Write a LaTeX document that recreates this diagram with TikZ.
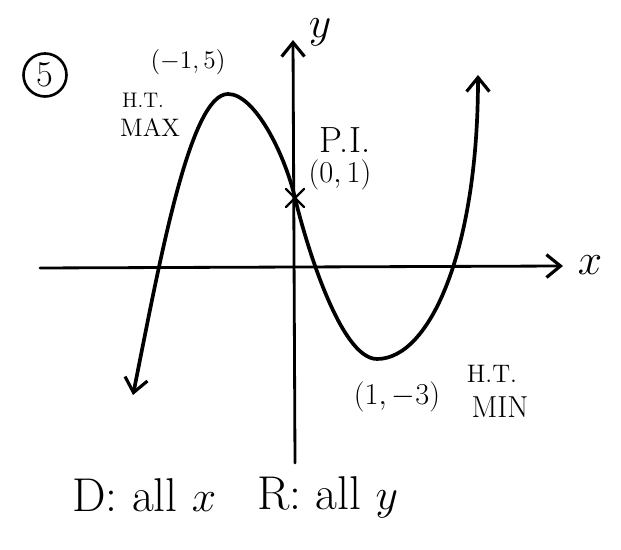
\documentclass[tikz,border=0pt]{standalone}
\usepackage{tikz}
\usetikzlibrary{arrows.meta}
\tikzset{
  hand/.style={line width=2.1pt,line cap=round,line join=round},
  axis/.style={line width=1.6pt,line cap=round},
  barb/.tip={Straight Barb[length=8pt,width=13pt,line width=1.8pt]},
  lbl/.style={inner sep=0pt},
}
\begin{document}
\begin{tikzpicture}[x=0.02cm,y=0.02cm]
\useasboundingbox (0,0) rectangle (621,550);
% ---- OSIE ----
\coordinate (xl) at (40,282); \coordinate (xr) at (563,284);
\coordinate (yb) at (295,87); \coordinate (yt) at (293,510);
\draw[axis,-barb] (xl) -- (xr);
\draw[axis,-barb] (yb) -- (yt);
\node[font=\Huge] (xlab) at (590,285) {$x$};
\node[font=\fontsize{32}{34}\selectfont] (ylab) at (320,518) {$y$};
% ---- KRZYWA ----
\coordinate (lt) at (133,155); \coordinate (mx) at (228,456);
\coordinate (pi) at (295,352); \coordinate (mn) at (377,191);
\coordinate (rt) at (478,475);
\draw[hand,barb-barb] (lt) .. controls (160,290) and (190,456) .. (mx)
  .. controls (255,456) and (285,395) .. (pi)
  .. controls (305,310) and (340,191) .. (mn)
  .. controls (430,191) and (478,300) .. (rt);
\draw[hand,line width=1.3pt] (pi) ++(-9,-9) -- ++(18,18) (pi) ++(-9,9) -- ++(18,-18);
% ---- OPISY ----
\node[draw,circle,line width=1.5pt,minimum size=0.86cm,inner sep=0pt,font=\huge] (nr) at (45,475) {5};
\node[lbl,font=\Large] (maxpt) at (188,488) {$(-1,5)$};
\node[lbl,font=\large] (htmax) at (143,450) {H.T.};
\node[lbl,font=\Large] (maxl) at (150,423) {MAX};
\node[lbl,font=\huge] (pil) at (345,410) {P.I.};
\node[lbl,font=\LARGE] (pipt) at (340,375) {$(0,1)$};
\node[lbl,font=\LARGE] (minpt) at (397,153) {$(1,-3)$};
\node[lbl,font=\Large] (htmin) at (492,176) {H.T.};
\node[lbl,font=\LARGE] (minl) at (500,143) {MIN};
\node[lbl,font=\fontsize{27}{30}\selectfont,anchor=base west] (dom) at (72,38) {D: all $x$};
\node[lbl,font=\fontsize{27}{30}\selectfont,anchor=base west] (rng) at (257,40) {R: all $y$};
\end{tikzpicture}
\end{document}
